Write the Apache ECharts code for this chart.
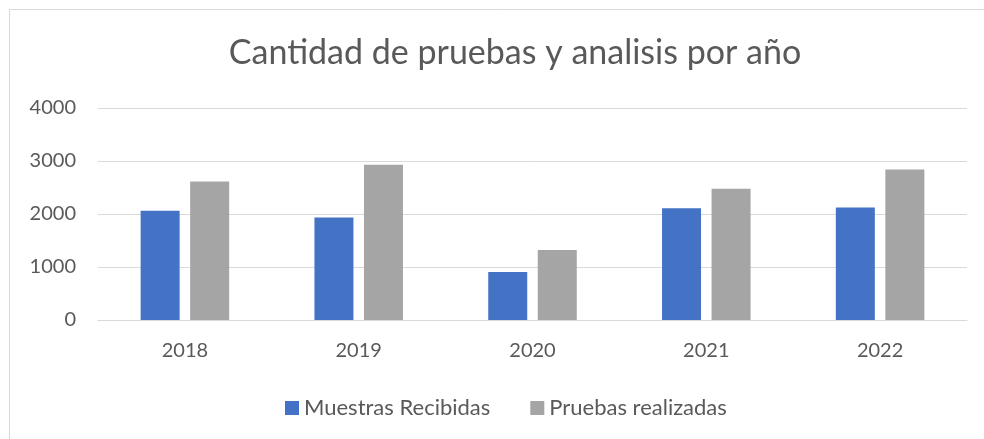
<!DOCTYPE html>
<html><head><meta charset="utf-8">
<script src="https://cdn.jsdelivr.net/npm/echarts@6/dist/echarts.min.js"></script>
<style>html,body{margin:0;padding:0;background:#fff}#c{width:984px;height:439px}</style>
</head><body><div id="c"></div>
<script>
var categories = ['2018','2019','2020','2021','2022'];
var muestrasRecibidas = [2060, 1935, 905, 2110, 2125];
var pruebasRealizadas = [2615, 2930, 1320, 2475, 2840];
var yTicks = [0, 1000, 2000, 3000, 4000];
var titleText = 'Cantidad de pruebas y analisis por año';
var seriesNames = ['Muestras Recibidas', 'Pruebas realizadas'];

var font = 'Lato, "Open Sans", sans-serif';
var chart = echarts.init(document.getElementById('c'), null, {renderer: 'canvas'});
chart.setOption({
  animation: false,
  backgroundColor: '#fff',
  title: {
    text: titleText, left: 510, top: 31, textAlign: 'center',
    textStyle: {fontFamily: font, fontSize: 34, fontWeight: 'normal', color: '#595959'}
  },
  legend: {
    data: seriesNames, left: 280, top: 392, itemWidth: 14, itemHeight: 14, itemGap: 40,
    icon: 'rect',
    textStyle: {fontFamily: font, fontSize: 22, color: '#595959'}
  },
  graphic: [
    {type: 'line', shape: {x1: 9.5, y1: 9.5, x2: 984, y2: 9.5}, style: {stroke: '#d9d9d9', lineWidth: 1}},
    {type: 'line', shape: {x1: 9.5, y1: 9.5, x2: 9.5, y2: 439}, style: {stroke: '#d9d9d9', lineWidth: 1}}
  ],
  grid: {left: 98, right: 17, top: 108, bottom: 119},
  xAxis: {
    type: 'category', data: categories,
    axisLine: {show: true, lineStyle: {color: '#d9d9d9', width: 1}},
    axisTick: {show: false},
    axisLabel: {fontFamily: font, fontSize: 20, color: '#595959', margin: 21}
  },
  yAxis: {
    type: 'value', min: yTicks[0], max: yTicks[yTicks.length-1], interval: 1000,
    axisLine: {show: false}, axisTick: {show: false},
    splitLine: {lineStyle: {color: '#d9d9d9', width: 1}},
    axisLabel: {fontFamily: font, fontSize: 20, color: '#595959', margin: 22,
      formatter: function (v) { return String(v); }}
  },
  series: [
    {name: seriesNames[0], type: 'bar', data: muestrasRecibidas, barWidth: 39, barGap: '27%',
     itemStyle: {color: '#4472c4'}},
    {name: seriesNames[1], type: 'bar', data: pruebasRealizadas, barWidth: 39,
     itemStyle: {color: '#a5a5a5'}}
  ]
});
</script></body></html>
